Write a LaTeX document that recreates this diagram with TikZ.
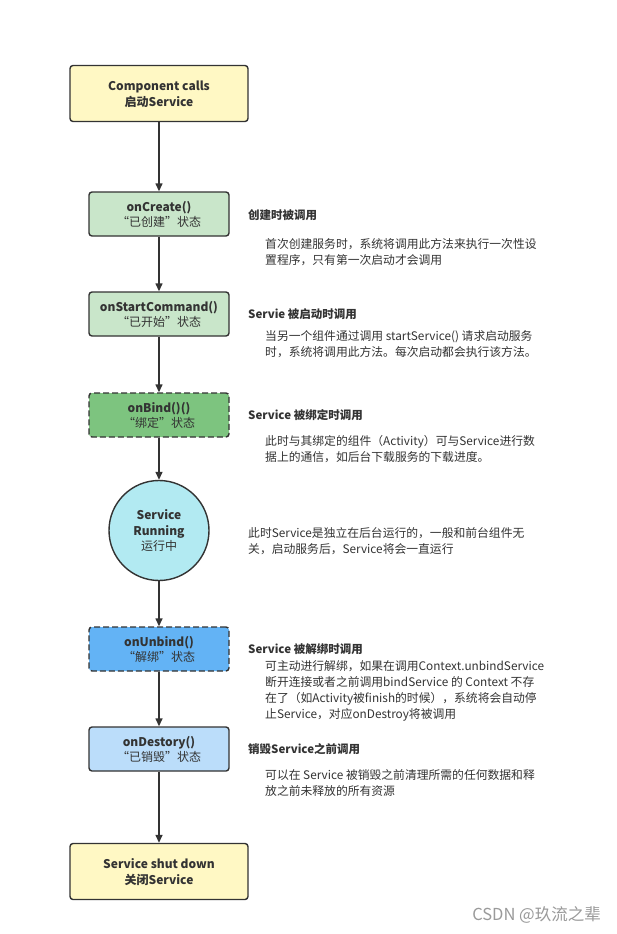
\documentclass[tikz,border=0pt]{standalone}
\usepackage{fontspec}
\setmainfont{Noto Sans CJK SC}
\usetikzlibrary{arrows.meta}
\definecolor{edge}{HTML}{333333}
\definecolor{txt}{HTML}{333333}
\definecolor{yel}{HTML}{FFF8C4}
\definecolor{lgreen}{HTML}{C9E6CA}
\definecolor{dgreen}{HTML}{7DC47F}
\definecolor{cyan1}{HTML}{B2EAF2}
\definecolor{dblue}{HTML}{63B3F5}
\definecolor{lblue}{HTML}{BBDDFA}
\definecolor{wm}{HTML}{9A9A9A}
\tikzset{
  boxbase/.style={draw=edge, line width=1.4pt, rounded corners=3pt, align=center, text=txt,
    font=\fontsize{12}{15.5}\selectfont, inner sep=0pt, text depth=0pt},
  endbox/.style={boxbase, fill=yel, minimum width=178pt, minimum height=56pt},
  statebox/.style={boxbase, minimum width=140pt, minimum height=44pt},
  runcircle/.style={draw=edge, line width=1.4pt, circle, fill=cyan1, minimum size=100pt, align=center,
    text=txt, font=\fontsize{12}{15.5}\selectfont, inner sep=0pt, text depth=0pt},
  flow/.style={draw=edge, line width=1.4pt, -{Triangle[length=8pt,width=7pt]}},
  heading/.style={anchor=west, text=txt, font=\fontsize{11.5}{16}\selectfont\bfseries, inner sep=0pt},
  desc/.style={anchor=west, text=txt, align=left, font=\fontsize{11.8}{16}\selectfont, inner sep=0pt},
}
\begin{document}
\begin{tikzpicture}[x=1pt,y=-1pt]
\useasboundingbox[fill=white] (0,0) rectangle (617,934);

\node[endbox] (start) at (159,93.5) {\bfseries Component calls\\\bfseries 启动Service};
\node[statebox, fill=lgreen] (create) at (159,214) {\bfseries onCreate()\\“已创建”状态};
\node[statebox, fill=lgreen] (startcmd) at (159,314) {\bfseries onStartCommand()\\“已开始”状态};
\node[statebox, fill=dgreen, dashed, dash pattern=on 6pt off 3pt] (bind) at (159,415) {\bfseries onBind()()\\“绑定”状态};
\node[runcircle] (run) at (159,530.5) {\bfseries Service\\\bfseries Running\\运行中};
\node[statebox, fill=dblue, dashed, dash pattern=on 6pt off 3pt] (unbind) at (159,649) {\bfseries onUnbind()\\“解绑”状态};
\node[statebox, fill=lblue] (destroy) at (159,749) {\bfseries onDestory()\\“已销毁”状态};
\node[endbox] (stop) at (159,871.5) {\bfseries Service shut down\\\bfseries 关闭Service};

\draw[flow] (start) -- (create);
\draw[flow] (create) -- (startcmd);
\draw[flow] (startcmd) -- (bind);
\draw[flow] (bind) -- (run);
\draw[flow] (run) -- (unbind);
\draw[flow] (unbind) -- (destroy);
\draw[flow] (destroy) -- (stop);

\node[heading] (h1) at (248,215) {创建时被调用};
\node[desc] (d1) at (265,252) {首次创建服务时，系统将调用此方法来执行一次性设\\置程序，只有第一次启动才会调用};

\node[heading] (h2) at (248,314) {Servie 被启动时调用};
\node[desc] (d2) at (265,344) {当另一个组件通过调用 startService() 请求启动服务\\时，系统将调用此方法。每次启动都会执行该方法。};

\node[heading] (h3) at (248,415) {Service 被绑定时调用};
\node[desc] (d3) at (265,449) {此时与其绑定的组件（Activity）可与Service进行数\\据上的通信，如后台下载服务的下载进度。};

\node[desc] (d4) at (248,541) {此时Service是独立在后台运行的，一般和前台组件无\\关，启动服务后，Service将会一直运行};

\node[heading] (h5) at (248,649) {Service 被解绑时调用};
\node[desc] (d5) at (265,691) {可主动进行解绑，如果在调用Context.unbindService\\断开连接或者之前调用bindService 的 Context 不存\\在了（如Activity被finish的时候），系统将会自动停\\止Service，对应onDestroy将被调用};

\node[heading] (h6) at (248,749) {销毁Service之前调用};
\node[desc] (d6) at (265,783) {可以在 Service 被销毁之前清理所需的任何数据和释\\放之前未释放的所有资源};

\node[anchor=east, text=wm, font=\fontsize{16.5}{19}\selectfont, inner sep=0pt] (wmark) at (601,915) {CSDN @玖流之辈};
\end{tikzpicture}
\end{document}
